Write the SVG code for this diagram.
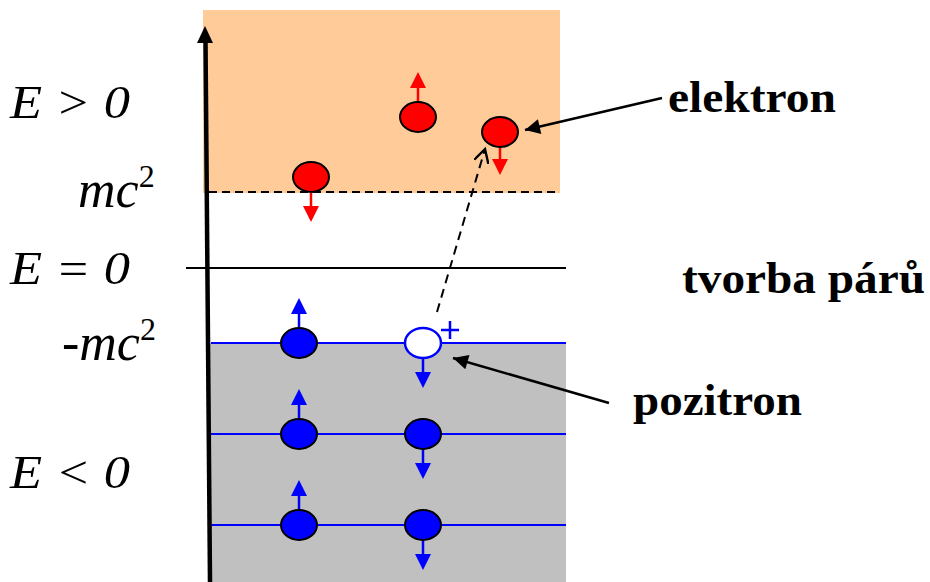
<svg xmlns="http://www.w3.org/2000/svg" xmlns:xlink="http://www.w3.org/1999/xlink" width="930" height="582" viewBox="0 0 930 582">
<style>
.el{fill:#FF0000;stroke:#000;stroke-width:2}
.bl{fill:#0000FF;stroke:#000;stroke-width:2}
.rs{stroke:#FF0000;stroke-width:2.5;fill:none}
.bs{stroke:#0000FF;stroke-width:2.5;fill:none}
.lv{stroke:#0000FF;stroke-width:2}
.ptr{stroke:#000;stroke-width:2.5;fill:none}
</style>
<defs>
<path id="hu" d="M-8,0 L0,-16 L8,0 z"/>
<path id="hd" d="M-8,0 L0,16 L8,0 z"/>
<marker id="ak" viewBox="0 0 10 10" refX="10" refY="5" markerWidth="18" markerHeight="15" markerUnits="userSpaceOnUse" orient="auto"><path d="M0,0 L10,5 L0,10 z" fill="#000"/></marker>
<marker id="ao" viewBox="0 0 10 10" refX="9" refY="5" markerWidth="16" markerHeight="15" markerUnits="userSpaceOnUse" orient="auto"><path d="M0,0 L9,5 L0,10" fill="none" stroke="#000" stroke-width="1.6"/></marker>
</defs>

<g id="bands">
<rect x="203" y="10" width="357" height="183" fill="#FFCC99"/>
<rect x="209" y="343" width="357" height="239" fill="#C0C0C0"/>
<line x1="209" y1="192" x2="556" y2="192" stroke="#000" stroke-width="2" stroke-dasharray="8,5"/>
<line x1="186" y1="268" x2="566" y2="268" stroke="#000" stroke-width="2"/>
<line class="lv" x1="211" y1="343" x2="566" y2="343"/>
<line class="lv" x1="211" y1="434" x2="566" y2="434"/>
<line class="lv" x1="211" y1="525" x2="566" y2="525"/>
</g>

<g id="axis">
<line x1="210" y1="582" x2="205.5" y2="40" stroke="#000" stroke-width="4.5"/>
<path d="M197,43 L205,26 L213,43 z" fill="#000"/>
</g>

<g id="labels-left" font-family="Liberation Serif, Times New Roman, serif" font-style="italic" font-size="47" fill="#000">
<text x="10" y="118" textLength="120" lengthAdjust="spacingAndGlyphs">E &gt; 0</text>
<text x="78" y="207" font-size="52">mc<tspan font-style="normal" font-size="32" dy="-20">2</tspan></text>
<text x="10" y="284" textLength="120" lengthAdjust="spacingAndGlyphs">E = 0</text>
<text x="62" y="360" font-size="52">-mc<tspan font-style="normal" font-size="32" dy="-20">2</tspan></text>
<text x="10" y="488" textLength="120" lengthAdjust="spacingAndGlyphs">E &lt; 0</text>
</g>

<g id="electrons">
<line class="rs" x1="311" y1="192" x2="311" y2="208"/>
<use xlink:href="#hd" href="#hd" x="311" y="206" fill="#FF0000"/>
<ellipse class="el" cx="311" cy="177" rx="18" ry="15"/>
<line class="rs" x1="418" y1="102" x2="418" y2="86"/>
<use xlink:href="#hu" href="#hu" x="418" y="88" fill="#FF0000"/>
<ellipse class="el" cx="418" cy="117" rx="18" ry="15"/>
<line class="rs" x1="500" y1="147" x2="500" y2="162"/>
<use xlink:href="#hd" href="#hd" x="500" y="159" fill="#FF0000"/>
<ellipse class="el" cx="500" cy="132" rx="18" ry="15"/>
</g>

<g id="sea">
<line class="bs" x1="299" y1="328" x2="299" y2="312"/>
<use xlink:href="#hu" href="#hu" x="299" y="314" fill="#0000FF"/>
<ellipse class="bl" cx="299" cy="343" rx="18" ry="15"/>
<line class="bs" x1="299" y1="419" x2="299" y2="403"/>
<use xlink:href="#hu" href="#hu" x="299" y="405" fill="#0000FF"/>
<ellipse class="bl" cx="299" cy="434" rx="18" ry="15"/>
<line class="bs" x1="299" y1="510" x2="299" y2="494"/>
<use xlink:href="#hu" href="#hu" x="299" y="496" fill="#0000FF"/>
<ellipse class="bl" cx="299" cy="525" rx="18" ry="15"/>
<line class="bs" x1="423" y1="358" x2="423" y2="374"/>
<use xlink:href="#hd" href="#hd" x="423" y="372" fill="#0000FF"/>
<ellipse cx="423" cy="343" rx="18" ry="15" fill="#FFFFFF" stroke="#0000FF" stroke-width="2.5"/>
<line class="bs" x1="423" y1="449" x2="423" y2="465"/>
<use xlink:href="#hd" href="#hd" x="423" y="463" fill="#0000FF"/>
<ellipse class="bl" cx="423" cy="434" rx="18" ry="15"/>
<line class="bs" x1="423" y1="540" x2="423" y2="556"/>
<use xlink:href="#hd" href="#hd" x="423" y="554" fill="#0000FF"/>
<ellipse class="bl" cx="423" cy="525" rx="18" ry="15"/>
<path d="M441,330 H459 M450,321 V339" stroke="#0000FF" stroke-width="2.5" fill="none"/>
</g>

<g id="connectors">
<line x1="437" y1="312" x2="485" y2="149" stroke="#000" stroke-width="2" stroke-dasharray="9,6" marker-end="url(#ao)"/>
<line class="ptr" x1="662" y1="98" x2="525" y2="130" marker-end="url(#ak)"/>
<line class="ptr" x1="609" y1="403" x2="453" y2="358" marker-end="url(#ak)"/>
</g>

<g id="labels-right" font-family="Liberation Serif, Times New Roman, serif" font-weight="bold" font-size="45" fill="#000">
<text x="668" y="112" textLength="168" lengthAdjust="spacingAndGlyphs">elektron</text>
<text x="682" y="293" textLength="243" lengthAdjust="spacingAndGlyphs">tvorba párů</text>
<text x="633" y="415" textLength="169" lengthAdjust="spacingAndGlyphs">pozitron</text>
</g>
</svg>
